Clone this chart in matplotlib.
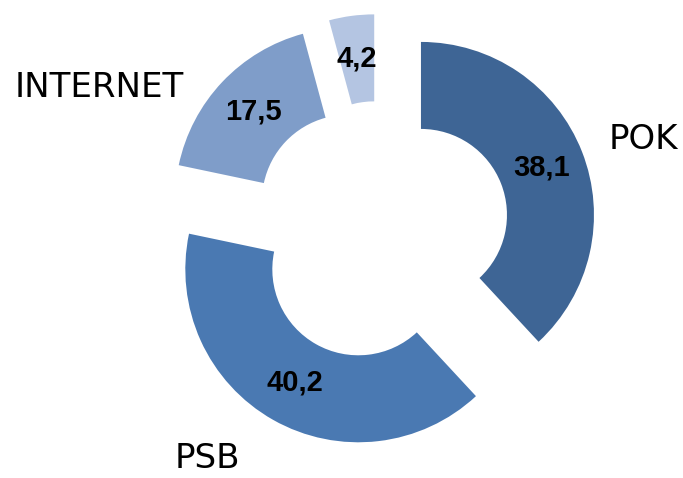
import matplotlib
matplotlib.use("Agg")
import matplotlib.pyplot as plt

categories = ["POK", "PSB", "INTERNET", ""]
values = [38.1, 40.2, 17.5, 4.2]
value_labels = ["38,1", "40,2", "17,5", "4,2"]
colors = ["#3E6595", "#4A79B2", "#7F9DC9", "#B4C5E2"]

W, H = 683, 478
fig = plt.figure(figsize=(W / 100, H / 100), dpi=100)
ax = fig.add_axes([0, 0, 1, 1])

R = 173
cx, cy = 380, H - 231
wedges, _, autotexts = ax.pie(
    values,
    colors=colors,
    startangle=90,
    counterclock=False,
    radius=R,
    center=(cx, cy),
    explode=[44] * len(values),
    wedgeprops=dict(width=87, linewidth=0),
    autopct=lambda p: "",
    pctdistance=0.75,
    frame=True,
)
for t, lab in zip(autotexts, value_labels):
    t.set_text(lab)
    t.set_fontfamily("Liberation Sans")
    t.set_fontweight("bold")
    t.set_fontsize(21)
    t.set_color("black")

ax.set_xlim(0, W)
ax.set_ylim(0, H)
ax.axis("off")

label_pos = {"POK": (643, 139), "PSB": (207, 459), "INTERNET": (99, 87)}
for name in categories:
    if name in label_pos:
        x, y = label_pos[name]
        ax.text(x, H - y, name, ha="center", va="center", fontsize=24.5,
                fontfamily="DejaVu Sans", color="black")

fig.savefig("out.png", dpi=100)
